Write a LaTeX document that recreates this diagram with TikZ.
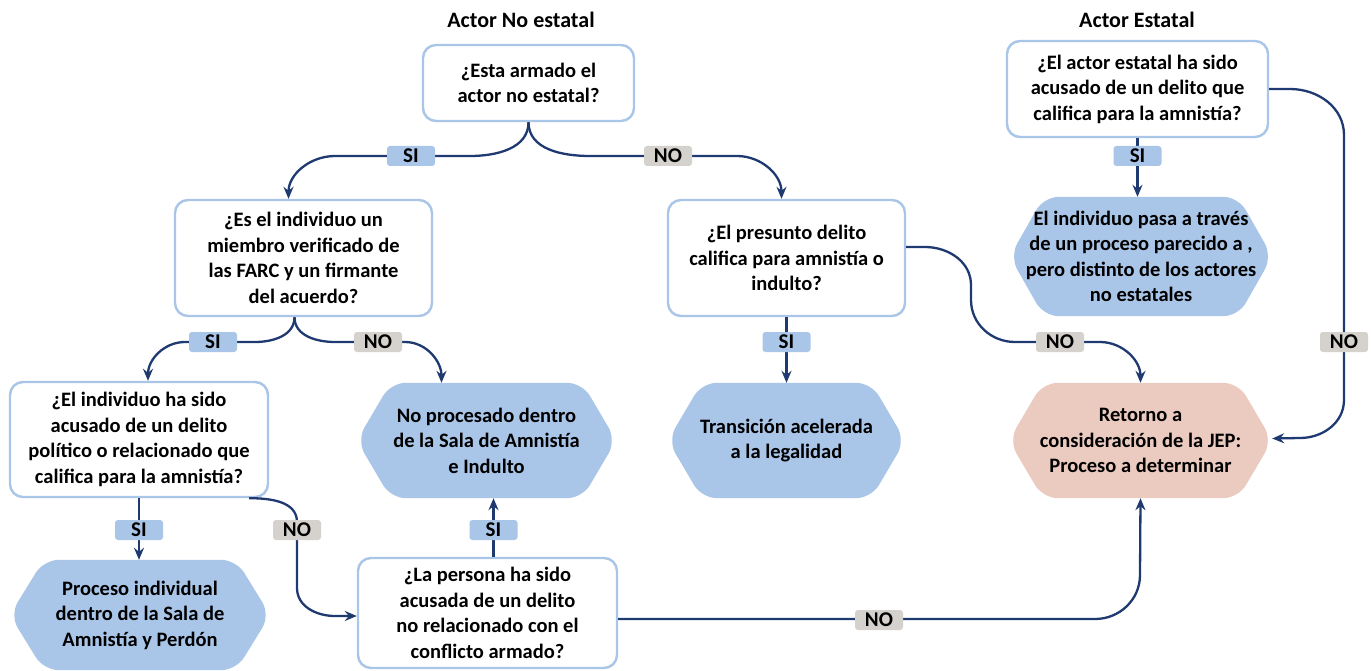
\documentclass[tikz,border=0pt]{standalone}
\usepackage{fontspec}
\setmainfont{Carlito}
\usetikzlibrary{arrows.meta,calc,backgrounds}
\definecolor{navy}{HTML}{1F3A70}
\definecolor{lblue}{HTML}{A9C5E8}
\definecolor{pinkc}{HTML}{EBCAC0}
\definecolor{grayc}{HTML}{D5D1CC}
\newcommand\txtfont{\bfseries\fontsize{20.5}{25.5}\selectfont}
\newcommand\hexfill[3]{%
  \fill[#2, rounded corners=15pt] ($(#1.north west)+(#3,0)$) -- ($(#1.north east)+(-#3,0)$) -- (#1.east) -- ($(#1.south east)+(-#3,0)$) -- ($(#1.south west)+(#3,0)$) -- (#1.west) -- cycle;}
\tikzset{
  qbox/.style={draw=lblue, line width=2.4pt, rounded corners=13pt, fill=white, align=center, font=\txtfont, inner sep=0pt},
  hexnode/.style={align=center, font=\txtfont, inner sep=0pt},
  conn/.style={draw=navy, line width=2.3pt, -{Stealth[length=12pt,width=10pt,inset=4pt]}},
  sitag/.style={fill=lblue, rounded corners=3pt, minimum width=48pt, minimum height=20pt, inner sep=0pt, font=\bfseries\fontsize{21}{20}\selectfont},
  notag/.style={sitag, fill=grayc},
  ttl/.style={font=\bfseries\fontsize{22}{22}\selectfont}
}
\begin{document}
\begin{tikzpicture}[x=1pt,y=-1pt]
\useasboundingbox (0,0) rectangle (1371,671);
% titles
\node[ttl] (t1) at (521,20) {Actor No estatal};
\node[ttl] (t2) at (1137,20) {Actor Estatal};
% question boxes
\node[qbox, minimum width=211pt, minimum height=76pt] (A) at (528.5,83) {¿Esta armado el\\actor no estatal?};
\node[qbox, minimum width=257pt, minimum height=116pt] (B) at (303.5,258) {¿Es el individuo un\\miembro verificado de\\las FARC y un firmante\\del acuerdo?};
\node[qbox, minimum width=237pt, minimum height=116pt] (C) at (786.5,258) {¿El presunto delito\\califica para amnistía o\\indulto?};
\node[qbox, minimum width=261pt, minimum height=96pt] (D) at (1137.5,89) {¿El actor estatal ha sido\\acusado de un delito que\\califica para la amnistía?};
\node[qbox, minimum width=258pt, minimum height=115pt] (I) at (139,439.5) {¿El individuo ha sido\\acusado de un delito\\político o relacionado que\\califica para la amnistía?};
\node[qbox, minimum width=259pt, minimum height=110pt] (K) at (487.5,613) {¿La persona ha sido\\acusada de un delito\\no relacionado con el\\conflicto armado?};
% hexagon nodes
\node[hexnode, minimum width=262pt, minimum height=119pt] (E) at (1141,256.5) {El individuo pasa a través\\de un proceso parecido a ,\\pero distinto de los actores\\no estatales};
\node[hexnode, minimum width=263pt, minimum height=115pt] (F) at (1140.5,440.5) {Retorno a\\consideración de la JEP:\\Proceso a determinar};
\node[hexnode, minimum width=259pt, minimum height=115pt] (G) at (486.5,440.5) {No procesado dentro\\de la Sala de Amnistía\\e Indulto};
\node[hexnode, minimum width=237pt, minimum height=115pt] (H) at (786.5,440.5) {Transición acelerada\\a la legalidad};
\node[hexnode, minimum width=260pt, minimum height=110pt] (J) at (140,615) {Proceso individual\\dentro de la Sala de\\Amnistía y Perdón};
\begin{scope}[on background layer]
  \fill[white] (0,0) rectangle (1371,671);
  \hexfill{E}{lblue}{34}
  \hexfill{F}{pinkc}{34}
  \hexfill{G}{lblue}{34}
  \hexfill{H}{lblue}{34}
  \hexfill{J}{lblue}{34}
\end{scope}
% connectors
\draw[conn] (A.south) to[out=-90,in=0] (470,156) -- (335,156) to[out=180,in=90] ([xshift=-15pt]B.north);
\draw[conn] (A.south) to[out=-90,in=180] (590,156) -- (737,156) to[out=0,in=90] ([xshift=-5pt]C.north);
\draw[conn] ([xshift=-9pt]B.south) to[out=-90,in=0] (255,342) -- (185,342) to[out=180,in=90] ([xshift=9pt]I.north);
\draw[conn] ([xshift=-9pt]B.south) to[out=-90,in=180] (335,342) -- (405,342) to[out=0,in=90] ([xshift=-45pt]G.north);
\draw[conn] (C.south) -- (H.north);
\draw[conn] ([yshift=11pt]C.east) -- (925,247) to[out=0,in=90] (971,285) -- (971,300) to[out=-90,in=180] (1015,342) -- (1100,342) to[out=0,in=90] (F.north);
\draw[conn] (D.south) -- (D.south |- E.north);
\draw[conn] (D.east) -- (1290,89) to[out=0,in=90] (1344,135) -- (1344,400) to[out=-90,in=0] (1300,438) -- ([yshift=2pt]F.east);
\draw[conn] (I.south) -- (I.south |- J.north);
\draw[conn] ([xshift=-20pt]I.south east) to[out=0,in=90] (297,522) -- (297,588) to[out=-90,in=180] (335,616) -- ([yshift=-3pt]K.west);
\draw[conn] ([xshift=6pt]K.north) -- ([xshift=6pt]K.north |- G.south);
\draw[conn] ([yshift=-6pt]K.east) -- (1095,619) to[out=0,in=-90] (1140,575) -- (F.south);
% tags
\node[sitag] (s1) at (411,156) {SI};
\node[notag] (n1) at (668,156) {NO};
\node[sitag] (s2) at (213,342) {SI};
\node[notag] (n2) at (378,342) {NO};
\node[sitag] (s3) at (786.5,342) {SI};
\node[notag] (n3) at (1060,342) {NO};
\node[sitag] (s4) at (1137.5,156) {SI};
\node[notag] (n4) at (1344,342) {NO};
\node[sitag] (s5) at (139,530) {SI};
\node[notag] (n5) at (297,530) {NO};
\node[sitag] (s6) at (493.5,530) {SI};
\node[notag] (n6) at (879,620) {NO};
\end{tikzpicture}
\end{document}
